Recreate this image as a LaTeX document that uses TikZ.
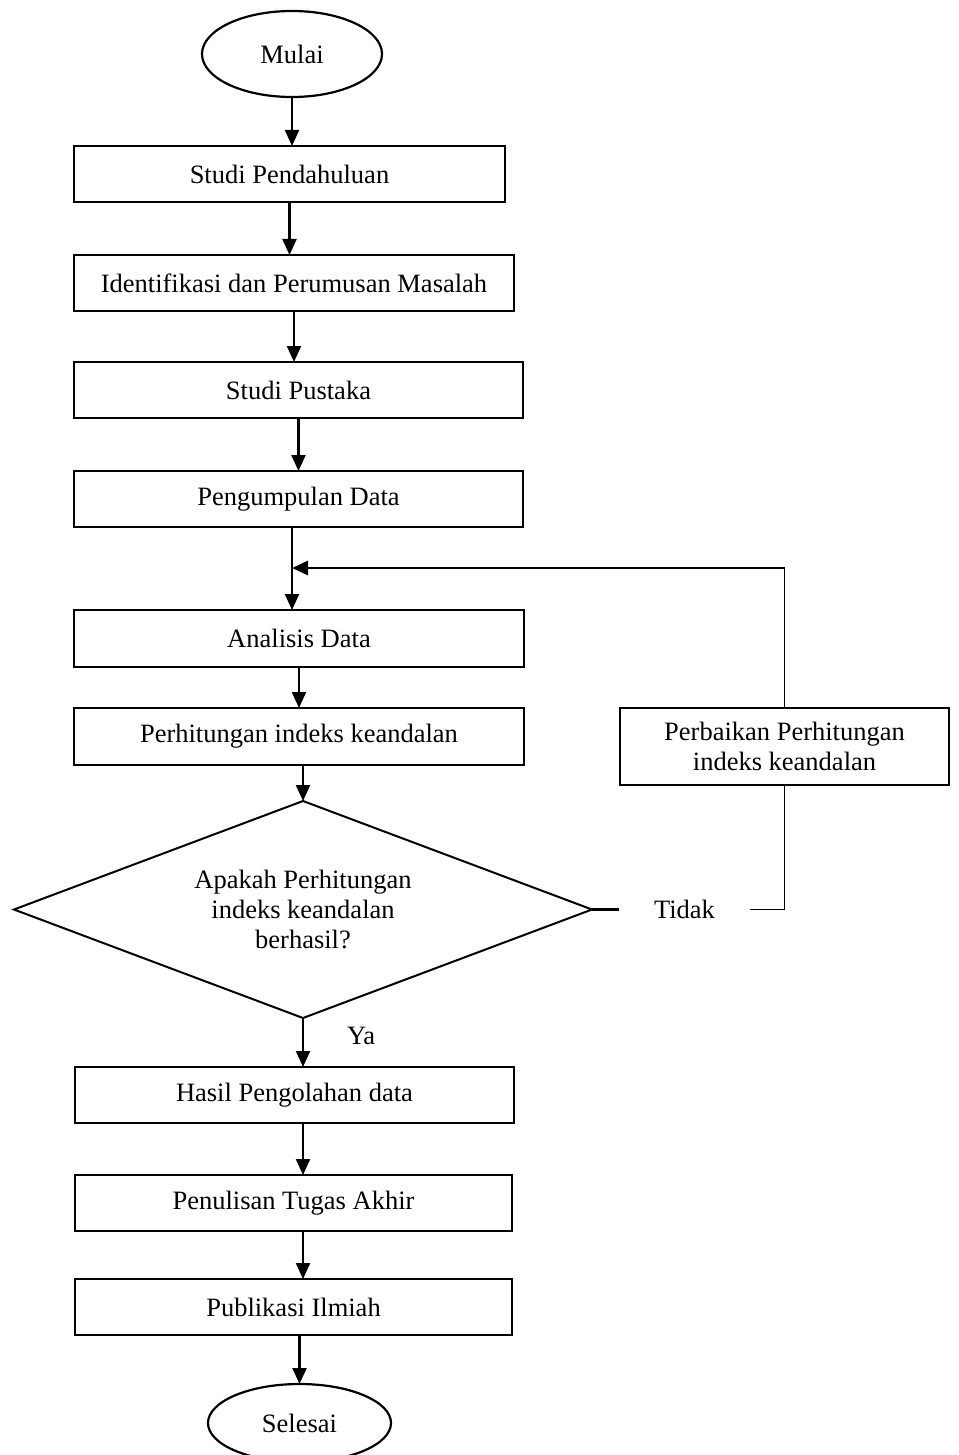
\documentclass[tikz,border=0pt]{standalone}
\usepackage{fontspec}
\setmainfont{Liberation Serif}
\usetikzlibrary{positioning,arrows.meta,shapes.geometric}
\tikzset{
    proses/.style = {
        draw,
        line width=2.2pt,
        rectangle,
        minimum height=56pt,
        inner sep=0pt,
        outer sep=0pt,
        align=center,
        },
    terminal/.style = {
        draw,
        line width=2.2pt,
        ellipse,
        inner sep=0pt,
        outer sep=0pt,
        },
    keputusan/.style = {
        draw,
        line width=2pt,
        diamond,
        aspect=2.66,
        minimum width=578pt,
        minimum height=217pt,
        inner sep=0pt,
        outer sep=0pt,
        align=center,
        },
    keterangan/.style = {
        inner sep=0pt,
        outer sep=0pt,
        },
    panah/.style = {
        line width=2.2pt,
        -{Triangle[length=16pt,width=14pt]},
        },
    garis/.style = {
        line width=1.8pt,
        },
}

\begin{document}
\begin{tikzpicture}[x=1pt,y=-1pt,font=\fontsize{26.5}{30}\selectfont]
    \useasboundingbox (0,0) rectangle (958,1455);

    \node[terminal, minimum width=180pt, minimum height=86pt] (mulai) at (292,54) {Mulai};
    \node[proses, minimum width=431pt, anchor=north west] (studi) at (74,146) {Studi Pendahuluan};
    \node[proses, minimum width=440pt, below=53pt of studi.south west, anchor=north west] (identifikasi) {Identifikasi dan Perumusan Masalah};
    \node[proses, minimum width=449pt, below=51pt of identifikasi.south west, anchor=north west] (pustaka) {Studi Pustaka};
    \node[proses, minimum width=449pt, below=53pt of pustaka.south west, anchor=north west] (kumpul) {Pengumpulan Data};
    \node[proses, minimum width=450pt, minimum height=57pt, below=83pt of kumpul.south west, anchor=north west] (analisis) {Analisis Data};
    \node[proses, minimum width=450pt, minimum height=57pt, below=41pt of analisis.south west, anchor=north west] (hitung) {Perhitungan indeks keandalan};
    \node[keputusan, below=36pt of hitung, xshift=4pt] (cek) {Apakah Perhitungan\\indeks keandalan\\berhasil?};
    \node[proses, minimum width=439pt, below=49pt of cek, xshift=-8.5pt] (hasil) {Hasil Pengolahan data};
    \node[proses, minimum width=437pt, below=52pt of hasil.south west, anchor=north west] (tulis) {Penulisan Tugas Akhir};
    \node[proses, minimum width=437pt, below=48pt of tulis.south west, anchor=north west] (publikasi) {Publikasi Ilmiah};
    \node[terminal, minimum width=183pt, minimum height=78pt, below=49pt of publikasi, xshift=6pt] (selesai) {Selesai};

    \node[proses, line width=1.8pt, minimum width=329pt, minimum height=77pt, right=96pt of hitung.north east, anchor=north west] (perbaikan) {Perbaikan Perhitungan\\indeks keandalan};
    \node[keterangan, inner xsep=35pt, right=27pt of cek] (tidak) {Tidak};
    \node[keterangan, below right=9pt and 44pt of cek.south] (ya) {Ya};

    \coordinate (gabung) at (292,568);

    \draw[panah] (mulai.south) -- (mulai.south |- studi.north);
    \draw[panah] (studi.south) -- (studi.south |- identifikasi.north);
    \draw[panah] (identifikasi.south) -- (identifikasi.south |- pustaka.north);
    \draw[panah] (pustaka.south) -- (pustaka.south |- kumpul.north);
    \draw[panah] (kumpul.south -| gabung) -- (analisis.north -| gabung);
    \draw[panah] (analisis.south) -- (analisis.south |- hitung.north);
    \draw[panah] (hitung.south -| cek.north) -- (cek.north);
    \draw[panah] (cek.south) -- (cek.south |- hasil.north);
    \draw[panah] (hasil.south -| cek.south) -- (tulis.north -| cek.south);
    \draw[panah] (tulis.south -| cek.south) -- (publikasi.north -| cek.south);
    \draw[panah] (publikasi.south -| selesai.north) -- (selesai.north);

    %\draw[garis] (cek.east) -| (perbaikan.south);
    \draw[line width=2.2pt] (cek.east) -- (tidak.west);
    \draw[garis] (tidak.east) -| (perbaikan.south);
    \draw[garis] (perbaikan.north) -- (perbaikan.north |- gabung) coordinate (sudut);
    \draw[panah, line width=2.6pt] (sudut) -- (gabung);
\end{tikzpicture}
\end{document}
